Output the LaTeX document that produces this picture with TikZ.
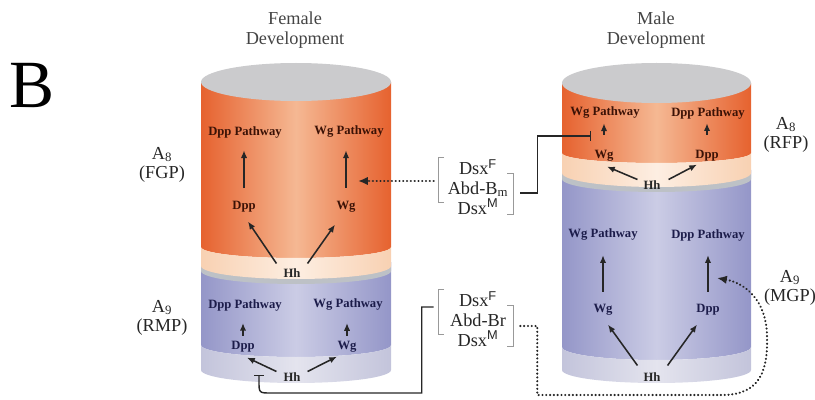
\documentclass[tikz,border=0pt]{standalone}
\usepackage{fontspec}
\setmainfont{Liberation Serif}
\setsansfont{Liberation Sans}
\usetikzlibrary{arrows.meta,calc}

\definecolor{orgdark}{HTML}{E6622F}
\definecolor{orglight}{HTML}{F5B893}
\definecolor{peach}{HTML}{F8D1B2}
\definecolor{peachlight}{HTML}{FDEEE2}
\definecolor{lavdark}{HTML}{9496C8}
\definecolor{lavlight}{HTML}{CBCCE5}
\definecolor{lavpale}{HTML}{C3C4DB}
\definecolor{lavpalelight}{HTML}{E4E4EE}
\definecolor{lidgray}{HTML}{CBCBCD}
\definecolor{rimgray}{HTML}{BDC1C6}
\definecolor{labbrown}{HTML}{3B1206}
\definecolor{labnavy}{HTML}{1C1C4A}
\definecolor{titlegray}{HTML}{444444}

\tikzset{
  orgside/.style={left color=orgdark,right color=orgdark,middle color=orglight},
  peachside/.style={left color=peach,right color=peach,middle color=peachlight},
  lavside/.style={left color=lavdark,right color=lavdark,middle color=lavlight},
  paleside/.style={left color=lavpale,right color=lavpale,middle color=lavpalelight},
  lid/.style={fill=lidgray},
  rim/.style={fill=rimgray},
  orglab/.style={font=\bfseries\fontsize{9}{10}\selectfont,text=labbrown,inner sep=2pt},
  lavlab/.style={font=\bfseries\fontsize{9}{10}\selectfont,text=labnavy,inner sep=2pt},
  hhlab/.style={font=\bfseries\fontsize{9}{10}\selectfont,text=black!85,inner sep=2pt},
  devtitle/.style={align=center,font=\fontsize{13}{14}\selectfont,text=titlegray},
  seg/.style={align=center,font=\fontsize{13}{14}\selectfont,text=black!85},
  regbox/.style={align=center,font=\fontsize{13}{14}\selectfont,text=black!85,
    minimum width=1.9cm,minimum height=1.4cm,inner sep=0pt},
  sig/.style={-{Latex[length=5.5pt,width=4.5pt]},line width=1.1pt,draw=black!85},
  inh/.style={-{Bar[width=7pt]},line width=1pt,draw=black!85},
  cue/.style={-{Latex[length=7pt,width=6pt]},line width=1.6pt,draw=black!85,
    dash pattern=on 0.1pt off 2.6pt,line cap=round},
  brk/.style={draw=black!40,line width=0.7pt}
}

\begin{document}
\begin{tikzpicture}[x=0.025cm,y=-0.025cm]
  \useasboundingbox (0,0) rectangle (815,400);
  \node[font=\fontsize{48}{48}\selectfont] (panel) at (32,86) {B};

  % female, A9 segment
  \shade[lavside] (201,262) -- (201,345) arc[start angle=180,end angle=0,x radius=95,y radius=12] -- (391,262) -- cycle;
  \shade[paleside] (201,345) -- (201,370) arc[start angle=180,end angle=0,x radius=95,y radius=13] -- (391,345) arc[start angle=0,end angle=180,x radius=95,y radius=12] -- cycle;
  \fill[rim] (201,262) -- (201,271) arc[start angle=180,end angle=0,x radius=95,y radius=13] -- (391,262) -- cycle;
  % female, A8 segment
  \shade[orgside] (201,82) -- (201,247) arc[start angle=180,end angle=0,x radius=95,y radius=11] -- (391,82) -- cycle;
  \shade[peachside] (201,247) -- (201,266) arc[start angle=180,end angle=0,x radius=95,y radius=13] -- (391,247) arc[start angle=0,end angle=180,x radius=95,y radius=11] -- cycle;
  \fill[lid] (296,82) ellipse[x radius=95,y radius=19];

  % male, A9 segment
  \shade[lavside] (562,170) -- (562,347) arc[start angle=180,end angle=0,x radius=94.5,y radius=13] -- (751,170) -- cycle;
  \shade[paleside] (562,347) -- (562,370) arc[start angle=180,end angle=0,x radius=94.5,y radius=13] -- (751,347) arc[start angle=0,end angle=180,x radius=94.5,y radius=13] -- cycle;
  \fill[rim] (562,170) -- (562,179) arc[start angle=180,end angle=0,x radius=94.5,y radius=13] -- (751,170) -- cycle;
  % male, A8 segment
  \shade[orgside] (562,83) -- (562,153) arc[start angle=180,end angle=0,x radius=94.5,y radius=10] -- (751,83) -- cycle;
  \shade[peachside] (562,153) -- (562,173) arc[start angle=180,end angle=0,x radius=94.5,y radius=14] -- (751,153) arc[start angle=0,end angle=180,x radius=94.5,y radius=10] -- cycle;
  \fill[lid] (656.5,83) ellipse[x radius=94.5,y radius=20];

  % titles and segment names
  \node[devtitle] (femT) at (295,30) {Female\\Development};
  \node[devtitle] (maleT) at (656,30) {Male\\Development};
  \node[seg] (segFGP) at (162,165) {A\textsubscript{8}\\(FGP)};
  \node[seg] (segRMP) at (162,318) {A\textsubscript{9}\\(RMP)};
  \node[seg] (segRFP) at (786,135) {A\textsubscript{8}\\(RFP)};
  \node[seg] (segMGP) at (790,288) {A\textsubscript{9}\\(MGP)};

  % regulators
  \node[regbox] (dsxBm) at (478,187) {Dsx\textsuperscript{\sffamily F}\\Abd-B\textsubscript{m}\\Dsx\textsuperscript{\sffamily M}};
  \node[regbox] (dsxBr) at (478,319) {Dsx\textsuperscript{\sffamily F}\\Abd-Br\\Dsx\textsuperscript{\sffamily M}};
  \foreach \b in {dsxBm,dsxBr} {
    \draw[brk] ($(\b)+(-34,-30)$) -- ++(-6,0) -- ++(0,45) -- ++(6,0);
    \draw[brk] ($(\b)+(29,-14)$) -- ++(6,0) -- ++(0,41) -- ++(-6,0);
  }

  % female A8 genes
  \node[orglab] (dppPwFa) at (245,132) {Dpp Pathway};
  \node[orglab] (wgPwFa) at (349,132) {Wg Pathway};
  \node[orglab] (dppFa) at (244,207) {Dpp};
  \node[orglab] (wgFa) at (346,207) {Wg};
  \node[hhlab] (hhFa) at (292,273) {Hh};
  \draw[sig,shorten <=7.4pt,shorten >=6.7pt] (dppFa.north) -- (dppFa.north |- dppPwFa.south);
  \draw[sig,shorten <=7.4pt,shorten >=6.7pt] (wgFa.north) -- (wgFa.north |- wgPwFa.south);
  \draw[sig] ($(hhFa.north west)+(-4,-2)$) -- ($(dppFa.south)+(4,6)$);
  \draw[sig] ($(hhFa.north east)+(4,-2)$) -- ($(wgFa.south)+(-11,9)$);

  % female A9 genes
  \node[lavlab] (dppPwFb) at (245,305) {Dpp Pathway};
  \node[lavlab] (wgPwFb) at (348,305) {Wg Pathway};
  \node[lavlab] (dppFb) at (243,347) {Dpp};
  \node[lavlab] (wgFb) at (347,347) {Wg};
  \node[hhlab] (hhFb) at (292,377) {Hh};
  \draw[sig,shorten <=2pt,shorten >=6.5pt] (dppFb.north) -- (dppFb.north |- dppPwFb.south);
  \draw[sig,shorten <=2pt,shorten >=6.5pt] (wgFb.north) -- (wgFb.north |- wgPwFb.south);
  \draw[sig] ($(hhFb.north west)+(-4,2)$) -- ($(dppFb.south)+(4,2)$);
  \draw[sig] ($(hhFb.north east)+(4,2)$) -- ($(wgFb.south)+(-10,1)$);

  % male A8 genes
  \node[orglab] (wgPwMa) at (605,113) {Wg Pathway};
  \node[orglab] (dppPwMa) at (708,113) {Dpp Pathway};
  \node[orglab] (wgMa) at (604,156) {Wg};
  \node[orglab] (dppMa) at (707,156) {Dpp};
  \node[hhlab] (hhMa) at (652,185) {Hh};
  \draw[sig,shorten <=9pt,shorten >=1pt] (wgMa.north) -- (wgMa.north |- wgPwMa.south);
  \draw[sig,shorten <=9pt,shorten >=1pt] (dppMa.north) -- (dppMa.north |- dppPwMa.south);
  \draw[sig] ($(hhMa.north west)+(-3,2)$) -- ($(wgMa.south)+(3,2)$);
  \draw[sig] ($(hhMa.north east)+(5,2)$) -- ($(dppMa.south)+(-10,0)$);

  % male A9 genes
  \node[lavlab] (wgPwMb) at (603,235) {Wg Pathway};
  \node[lavlab] (dppPwMb) at (708,235) {Dpp Pathway};
  \node[lavlab] (wgMb) at (603,310) {Wg};
  \node[lavlab] (dppMb) at (708,310) {Dpp};
  \node[hhlab] (hhMb) at (652,377) {Hh};
  \draw[sig,shorten <=6.7pt,shorten >=8pt] (wgMb.north) -- (wgMb.north |- wgPwMb.south);
  \draw[sig,shorten <=6.7pt,shorten >=8pt] (dppMb.north) -- (dppMb.north |- dppPwMb.south);
  \draw[sig] ($(hhMb.north west)+(-3,-4)$) -- ($(wgMb.south)+(5,6)$);
  \draw[sig] ($(hhMb.north east)+(4,-4)$) -- ($(dppMb.south)+(-11,6)$);

  % regulator connections
  \coordinate (wgTgtFa) at (358,181);
  \coordinate (wgBarMa) at (591,136);
  \coordinate (dppBarFb) at (259,375);
  \coordinate (dppTgtMb) at (717,278);
  \draw[cue] ($(dsxBm.west)+(-6,-6)$) -- (wgTgtFa);
  \draw[inh] ($(dsxBm.east)+(4,6)$) -- ++(17,0) |- (wgBarMa);
  \draw[inh] ($(dsxBr.west)+(-6,-12)$) -- ++(-12,0) |- ($(dppBarFb)+(12,18)$)
    .. controls ($(dppBarFb)+(0,18)$) .. ($(dppBarFb)+(0,6)$) -- (dppBarFb);
  \draw[cue] ($(dsxBr.east)+(4,7)$) -- ++(17,0) |- ($(dppTgtMb)+(5,117)$)
    .. controls ($(dppTgtMb)+(45,117)$) and ($(dppTgtMb)+(51,90)$) .. ($(dppTgtMb)+(50,57)$)
    .. controls ($(dppTgtMb)+(49,22)$) and ($(dppTgtMb)+(28,5)$) .. (dppTgtMb);
\end{tikzpicture}
\end{document}
